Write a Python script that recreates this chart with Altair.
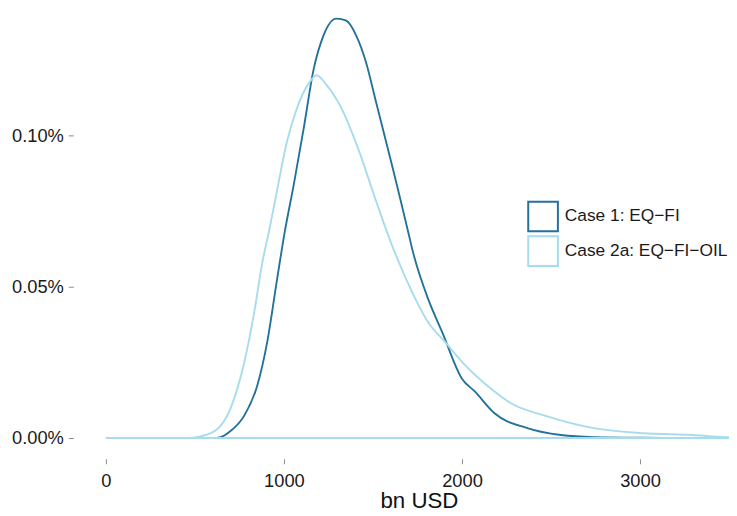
import pandas as pd
import altair as alt

# density curves (x in bn USD, density per bn USD)
series = ["Case 1: EQ\u2212FI", "Case 2a: EQ\u2212FI\u2212OIL"]
colors = ["#23729a", "#a6dcec"]

x_case1 = [0, 600, 644, 700, 778, 850, 906, 961, 1006, 1056, 1111, 1167, 1222, 1294,
           1350, 1406, 1461, 1517, 1611, 1656, 1700, 1722, 1811, 1889, 2000, 2072,
           2183, 2367, 2556, 2739, 3017, 3500, 3800]
y_case1 = [0, 0, 0.003, 0.023, 0.075, 0.173, 0.317, 0.523, 0.686, 0.840, 1.023, 1.219,
           1.330, 1.386, 1.379, 1.330, 1.242, 1.111, 0.892, 0.784, 0.676, 0.621, 0.458,
           0.350, 0.196, 0.154, 0.082, 0.033, 0.010, 0.003, 0.001, 0, 0]

x_case2a = [0, 461, 589, 700, 778, 833, 878, 917, 961, 1017, 1072, 1144, 1183, 1239,
            1333, 1422, 1517, 1611, 1722, 1811, 1906, 2000, 2183, 2278, 2461, 2739,
            3017, 3294, 3478, 3800]
y_case2a = [0, 0, 0.016, 0.098, 0.252, 0.415, 0.578, 0.686, 0.817, 0.980, 1.088, 1.176,
            1.199, 1.167, 1.078, 0.948, 0.784, 0.631, 0.480, 0.382, 0.317, 0.252, 0.154,
            0.114, 0.075, 0.033, 0.016, 0.010, 0.003, 0]

df = pd.concat([
    pd.DataFrame({"x": x_case1, "density": [v / 1000 for v in y_case1], "case": series[0]}),
    pd.DataFrame({"x": x_case2a, "density": [v / 1000 for v in y_case2a], "case": series[1]}),
])

font = "Liberation Sans"

chart = alt.Chart(df).mark_area(
    fill="white", fillOpacity=0, strokeWidth=1.9, interpolate="monotone", clip=True
).encode(
    alt.X("x:Q", scale=alt.Scale(domain=[-183.3, 3500], nice=False, zero=False),
          axis=alt.Axis(values=[0, 1000, 2000, 3000], format="d", title="bn USD",
                        grid=False, domain=False, tickColor="#8a8a8a", tickSize=5,
                        labelPadding=8, labelFontSize=18.5, labelColor="#1a1a1a",
                        labelFont=font, titleFont=font, titleFontSize=22.5,
                        titleFontWeight="normal", titleColor="#111",
                        titleX=349.5, titleY=49, titleBaseline="alphabetic",
                        titleAlign="center", titleAnchor="start")),
    alt.Y("density:Q", stack=None,
          scale=alt.Scale(domain=[-0.0000686, 0.0014118], nice=False, zero=False),
          axis=alt.Axis(values=[0, 0.0005, 0.001], format=".2%", title=None,
                        grid=False, domain=False, tickColor="#8a8a8a", tickSize=5,
                        labelPadding=5, labelFontSize=18.5, labelColor="#1a1a1a",
                        labelFont=font)),
    alt.Stroke("case:N", scale=alt.Scale(domain=series, range=colors),
               legend=alt.Legend(title=None, orient="none", legendX=459, legendY=192,
                                 symbolType="square", symbolSize=900, symbolStrokeWidth=2,
                                 symbolFillColor="white", labelFontSize=17.5,
                                 labelFont=font, labelColor="#1a1a1a", labelOffset=6,
                                 rowPadding=-6, labelLimit=400)),
    detail="case:N",
).properties(
    width=663, height=453,
    autosize=alt.AutoSizeParams(type="none"),
    padding={"left": 66, "top": 0, "right": 0, "bottom": 55},
).configure_view(stroke=None)

chart.save("out.html", embed_options={"renderer": "svg", "actions": False})
